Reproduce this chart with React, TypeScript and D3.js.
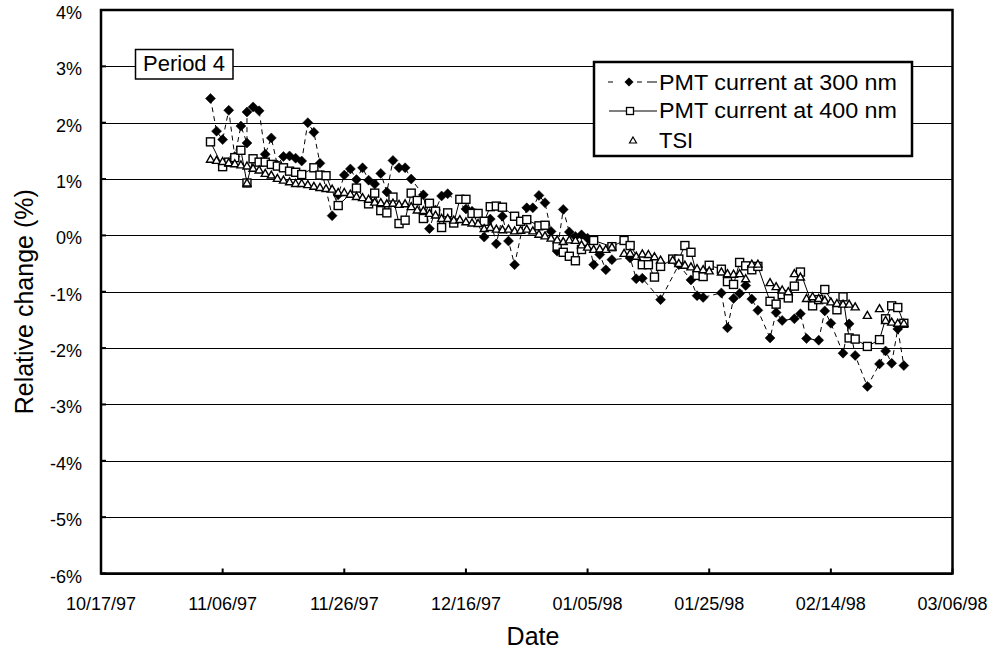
import React from "react";
import * as d3 from "d3";

const xTickLabels = ["10/17/97", "11/06/97", "11/26/97", "12/16/97", "01/05/98", "01/25/98", "02/14/98", "03/06/98"];
const yTickValues = [4, 3, 2, 1, 0, -1, -2, -3, -4, -5, -6];
const seriesNames = ["PMT current at 300 nm", "PMT current at 400 nm", "TSI"];
const periodLabel = "Period 4";

const pmt300: [string, number][] = [
  ["11/04/97", 2.43], ["11/05/97", 1.85], ["11/06/97", 1.7], ["11/07/97", 2.22], ["11/08/97", 1.4], ["11/09/97", 1.94],
  ["11/10/97", 1.64], ["11/10/97", 2.19], ["11/11/97", 2.28], ["11/12/97", 2.21], ["11/13/97", 1.44], ["11/14/97", 1.73],
  ["11/15/97", 1.25], ["11/16/97", 1.4], ["11/17/97", 1.41], ["11/18/97", 1.37], ["11/19/97", 1.32], ["11/20/97", 2.0],
  ["11/21/97", 1.83], ["11/22/97", 1.28], ["11/24/97", 0.35], ["11/25/97", 0.72], ["11/26/97", 1.07], ["11/27/97", 1.18],
  ["11/28/97", 0.99], ["11/29/97", 1.2], ["11/30/97", 0.98], ["12/01/97", 0.91], ["12/02/97", 1.1], ["12/03/97", 0.77],
  ["12/04/97", 1.33], ["12/05/97", 1.2], ["12/06/97", 1.2], ["12/07/97", 1.0], ["12/09/97", 0.72], ["12/10/97", 0.12],
  ["12/11/97", 0.45], ["12/12/97", 0.7], ["12/13/97", 0.74], ["12/16/97", 0.47], ["12/17/97", 0.43], ["12/19/97", -0.03],
  ["12/20/97", 0.29], ["12/21/97", -0.15], ["12/22/97", 0.34], ["12/23/97", -0.1], ["12/24/97", -0.52], ["12/26/97", 0.49],
  ["12/27/97", 0.49], ["12/28/97", 0.71], ["12/29/97", 0.58], ["12/30/97", 0.07], ["12/31/97", -0.28], ["01/01/98", 0.46],
  ["01/02/98", 0.06], ["01/03/98", -0.02], ["01/04/98", 0.01], ["01/05/98", -0.05], ["01/06/98", -0.52], ["01/07/98", -0.34],
  ["01/08/98", -0.61], ["01/09/98", -0.43], ["01/12/98", -0.4], ["01/13/98", -0.77], ["01/14/98", -0.76], ["01/17/98", -1.14],
  ["01/20/98", -0.52], ["01/22/98", -0.79], ["01/23/98", -1.07], ["01/24/98", -1.1], ["01/27/98", -1.02], ["01/28/98", -1.64],
  ["01/29/98", -1.12], ["01/30/98", -1.03], ["01/31/98", -0.89], ["02/01/98", -1.13], ["02/02/98", -1.33], ["02/04/98", -1.82],
  ["02/05/98", -1.37], ["02/06/98", -1.51], ["02/08/98", -1.48], ["02/09/98", -1.39], ["02/10/98", -1.83], ["02/12/98", -1.86],
  ["02/13/98", -1.34], ["02/14/98", -1.56], ["02/16/98", -2.09], ["02/17/98", -1.57], ["02/18/98", -2.13], ["02/20/98", -2.68],
  ["02/22/98", -2.28], ["02/23/98", -2.05], ["02/24/98", -2.27], ["02/25/98", -1.66], ["02/26/98", -2.31],
];

const pmt400: [string, number][] = [
  ["11/04/97", 1.66], ["11/06/97", 1.22], ["11/07/97", 1.3], ["11/08/97", 1.38], ["11/09/97", 1.51], ["11/10/97", 0.93],
  ["11/11/97", 1.36], ["11/12/97", 1.3], ["11/13/97", 1.3], ["11/14/97", 1.26], ["11/15/97", 1.23], ["11/16/97", 1.2],
  ["11/17/97", 1.14], ["11/18/97", 1.12], ["11/19/97", 1.08], ["11/21/97", 1.2], ["11/22/97", 1.07], ["11/23/97", 1.06],
  ["11/25/97", 0.53], ["11/28/97", 0.84], ["11/30/97", 0.56], ["12/01/97", 0.75], ["12/02/97", 0.44], ["12/03/97", 0.4],
  ["12/04/97", 0.68], ["12/05/97", 0.21], ["12/06/97", 0.27], ["12/07/97", 0.75], ["12/08/97", 0.62], ["12/09/97", 0.3],
  ["12/10/97", 0.57], ["12/11/97", 0.43], ["12/12/97", 0.14], ["12/13/97", 0.4], ["12/14/97", 0.22], ["12/15/97", 0.64],
  ["12/16/97", 0.64], ["12/17/97", 0.39], ["12/18/97", 0.39], ["12/19/97", 0.25], ["12/20/97", 0.51], ["12/21/97", 0.52],
  ["12/22/97", 0.5], ["12/24/97", 0.34], ["12/25/97", 0.25], ["12/26/97", 0.28], ["12/28/97", 0.17], ["12/29/97", 0.18],
  ["12/31/97", -0.19], ["01/01/98", -0.3], ["01/02/98", -0.37], ["01/03/98", -0.45], ["01/04/98", -0.25], ["01/06/98", -0.09],
  ["01/09/98", -0.2], ["01/11/98", -0.09], ["01/12/98", -0.18], ["01/14/98", -0.52], ["01/15/98", -0.52], ["01/16/98", -0.74],
  ["01/17/98", -0.55], ["01/19/98", -0.42], ["01/20/98", -0.42], ["01/21/98", -0.18], ["01/22/98", -0.3], ["01/23/98", -0.71],
  ["01/24/98", -0.73], ["01/25/98", -0.53], ["01/27/98", -0.6], ["01/28/98", -0.82], ["01/29/98", -0.87], ["01/30/98", -0.48],
  ["01/31/98", -0.54], ["02/01/98", -0.61], ["02/02/98", -0.55], ["02/04/98", -1.17], ["02/05/98", -1.22], ["02/06/98", -1.05],
  ["02/07/98", -1.11], ["02/08/98", -0.9], ["02/09/98", -0.65], ["02/11/98", -1.25], ["02/12/98", -1.14], ["02/13/98", -0.96],
  ["02/15/98", -1.32], ["02/16/98", -1.09], ["02/17/98", -1.82], ["02/18/98", -1.84], ["02/20/98", -1.97], ["02/22/98", -1.85],
  ["02/23/98", -1.48], ["02/24/98", -1.25], ["02/25/98", -1.28], ["02/26/98", -1.56],
];

const tsi: [string, number][] = [
  ["11/04/97", 1.36], ["11/05/97", 1.34], ["11/06/97", 1.32], ["11/07/97", 1.3], ["11/08/97", 1.28], ["11/09/97", 1.26],
  ["11/10/97", 1.24], ["11/10/97", 0.94], ["11/11/97", 1.2], ["11/12/97", 1.17], ["11/13/97", 1.11], ["11/14/97", 1.08],
  ["11/15/97", 1.02], ["11/16/97", 0.99], ["11/17/97", 0.96], ["11/18/97", 0.93], ["11/19/97", 0.93], ["11/20/97", 0.91],
  ["11/21/97", 0.88], ["11/22/97", 0.86], ["11/23/97", 0.84], ["11/24/97", 0.83], ["11/25/97", 0.77], ["11/26/97", 0.77],
  ["11/27/97", 0.74], ["11/28/97", 0.7], ["11/29/97", 0.68], ["11/30/97", 0.65], ["12/01/97", 0.6], ["12/02/97", 0.59],
  ["12/03/97", 0.57], ["12/04/97", 0.58], ["12/05/97", 0.56], ["12/06/97", 0.57], ["12/07/97", 0.52], ["12/08/97", 0.46],
  ["12/09/97", 0.45], ["12/10/97", 0.4], ["12/11/97", 0.37], ["12/12/97", 0.31], ["12/13/97", 0.31], ["12/14/97", 0.28],
  ["12/15/97", 0.29], ["12/16/97", 0.25], ["12/17/97", 0.23], ["12/18/97", 0.22], ["12/19/97", 0.13], ["12/20/97", 0.15],
  ["12/21/97", 0.12], ["12/22/97", 0.11], ["12/23/97", 0.12], ["12/24/97", 0.09], ["12/25/97", 0.1], ["12/26/97", 0.12],
  ["12/27/97", 0.09], ["12/28/97", 0.03], ["12/29/97", 0.0], ["12/30/97", -0.04], ["12/31/97", -0.07], ["01/01/98", -0.1],
  ["01/02/98", -0.07], ["01/03/98", -0.08], ["01/04/98", -0.16], ["01/05/98", -0.2], ["01/06/98", -0.24], ["01/07/98", -0.23],
  ["01/08/98", -0.24], ["01/09/98", -0.2], ["01/11/98", -0.31], ["01/12/98", -0.31], ["01/13/98", -0.36], ["01/14/98", -0.32],
  ["01/15/98", -0.33], ["01/16/98", -0.37], ["01/17/98", -0.43], ["01/19/98", -0.43], ["01/20/98", -0.49], ["01/21/98", -0.52],
  ["01/22/98", -0.55], ["01/23/98", -0.58], ["01/24/98", -0.6], ["01/25/98", -0.62], ["01/27/98", -0.64], ["01/28/98", -0.67],
  ["01/29/98", -0.68], ["01/30/98", -0.67], ["01/31/98", -0.76], ["02/01/98", -0.5], ["02/02/98", -0.5], ["02/04/98", -0.83],
  ["02/05/98", -0.9], ["02/06/98", -0.96], ["02/07/98", -0.99], ["02/08/98", -0.67], ["02/09/98", -0.73], ["02/10/98", -1.11],
  ["02/11/98", -1.08], ["02/12/98", -1.11], ["02/13/98", -1.14], ["02/14/98", -1.17], ["02/15/98", -1.2], ["02/16/98", -1.21],
  ["02/17/98", -1.21], ["02/18/98", -1.26], ["02/20/98", -1.41], ["02/22/98", -1.29], ["02/23/98", -1.5], ["02/24/98", -1.53],
  ["02/25/98", -1.55], ["02/26/98", -1.55],
];

const W = 995;
const H = 650;
const plot = { left: 101, right: 952.5, top: 10, bottom: 573.5 };
const FONT = "'Liberation Sans', Arial, Helvetica, sans-serif";

const parse = d3.timeParse("%m/%d/%y");

function diamondPath(cx: number, cy: number, r: number) {
  return `M${cx},${cy - r}L${cx + r},${cy}L${cx},${cy + r}L${cx - r},${cy}Z`;
}
function trianglePath(cx: number, cy: number, w: number, h: number) {
  return `M${cx},${cy - h / 2}L${cx + w / 2},${cy + h / 2}L${cx - w / 2},${cy + h / 2}Z`;
}

export default function App() {
  const x = d3
    .scaleTime()
    .domain([parse(xTickLabels[0]) as Date, parse(xTickLabels[xTickLabels.length - 1]) as Date])
    .range([plot.left, plot.right]);
  const y = d3.scaleLinear().domain([-6, 4]).range([plot.bottom, plot.top]);

  const toPts = (s: [string, number][]) => s.map(([d, v]) => [x(parse(d) as Date), y(v)] as [number, number]);
  const p300 = toPts(pmt300);
  const p400 = toPts(pmt400);
  const pTsi = toPts(tsi);
  const line = d3.line<[number, number]>().x((d) => d[0]).y((d) => d[1]);

  const snap = (v: number) => Math.round(v) + 0.5;

  return (
    <svg width={W} height={H} style={{ position: "absolute", left: 0, top: 0, background: "#fff" }} fontFamily={FONT}>
      <rect x={0} y={0} width={W} height={H} fill="#fff" />
      {/* gridlines */}
      {yTickValues.map((v) => (
        <line key={"g" + v} x1={plot.left} x2={plot.right} y1={snap(y(v))} y2={snap(y(v))} stroke="#000" strokeWidth={1} />
      ))}
      {/* x ticks (inward) */}
      {xTickLabels.map((t) => (
        <line key={"xt" + t} x1={x(parse(t) as Date)} x2={x(parse(t) as Date)} y1={plot.bottom} y2={plot.bottom - 5} stroke="#000" strokeWidth={2} />
      ))}
      {/* y ticks */}
      {yTickValues.map((v) => (
        <line key={"yt" + v} x1={plot.left} x2={plot.left + 5} y1={y(v)} y2={y(v)} stroke="#000" strokeWidth={2} />
      ))}

      {/* series lines */}
      <path d={line(p300) || ""} fill="none" stroke="#000" strokeWidth={1} strokeDasharray="5,4" />
      <path d={line(p400) || ""} fill="none" stroke="#000" strokeWidth={1} />

      {/* markers */}
      {p300.map((p, i) => (
        <path key={"d" + i} d={diamondPath(p[0], p[1], 5)} fill="#000" stroke="#000" strokeWidth={0.5} />
      ))}
      {p400.map((p, i) => (
        <rect key={"s" + i} x={p[0] - 4} y={p[1] - 4} width={8} height={8} fill="#fff" stroke="#000" strokeWidth={1.4} />
      ))}
      {pTsi.map((p, i) => (
        <path key={"t" + i} d={trianglePath(p[0], p[1], 8, 7)} fill="#fff" stroke="#000" strokeWidth={1.4} />
      ))}

      {/* plot border */}
      <rect x={plot.left} y={plot.top} width={plot.right - plot.left} height={plot.bottom - plot.top} fill="none" stroke="#000" strokeWidth={2.5} />

      {/* y tick labels */}
      {yTickValues.map((v) => (
        <text key={"yl" + v} x={82} y={y(v) + 9} textAnchor="end" fontSize={18} fill="#000">
          {`${v}%`}
        </text>
      ))}
      {/* x tick labels */}
      {xTickLabels.map((t) => (
        <text key={"xl" + t} x={x(parse(t) as Date)} y={610} textAnchor="middle" fontSize={18} fill="#000">
          {t}
        </text>
      ))}

      {/* axis titles */}
      <text x={533} y={645} textAnchor="middle" fontSize={25} fill="#000">
        Date
      </text>
      <text transform={`translate(33,${(plot.top + plot.bottom) / 2 + 10}) rotate(-90)`} textAnchor="middle" fontSize={25} fill="#000">
        Relative change (%)
      </text>

      {/* Period label */}
      <rect x={135.5} y={49.5} width={97.5} height={29.5} fill="#fff" stroke="#000" strokeWidth={1.5} />
      <text x={184} y={71} textAnchor="middle" fontSize={22} fill="#000">
        {periodLabel}
      </text>

      {/* legend */}
      <g>
        <rect x={594} y={62} width={318} height={94} fill="#fff" stroke="#000" strokeWidth={2.5} />
        <line x1={608} x2={657} y1={82} y2={82} stroke="#000" strokeWidth={1} strokeDasharray="5,14,0,10,5" />
        <path d={diamondPath(629, 82, 4.5)} fill="#000" />
        <text x={659} y={89.5} fontSize={22} fill="#000" textLength={238} lengthAdjust="spacingAndGlyphs">{seriesNames[0]}</text>

        <line x1={609} x2={657} y1={111} y2={111} stroke="#000" strokeWidth={1} />
        <rect x={626.5} y={107.5} width={7} height={7} fill="#fff" stroke="#000" strokeWidth={1.3} />
        <text x={659} y={118} fontSize={22} fill="#000" textLength={238} lengthAdjust="spacingAndGlyphs">{seriesNames[1]}</text>

        <path d={trianglePath(633, 140, 7, 6)} fill="#fff" stroke="#000" strokeWidth={1.2} />
        <text x={659} y={147.5} fontSize={22} fill="#000">{seriesNames[2]}</text>
      </g>
    </svg>
  );
}
